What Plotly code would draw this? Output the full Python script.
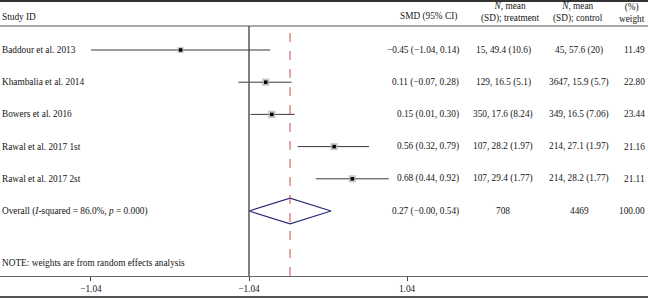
import plotly.graph_objects as go

studies = ["Baddour et al. 2013", "Khambalia et al. 2014", "Bowers et al. 2016",
           "Rawal et al. 2017 1st", "Rawal et al. 2017 2st"]
smd = [-0.45, 0.11, 0.15, 0.56, 0.68]
ci_lo = [-1.04, -0.07, 0.01, 0.32, 0.44]
ci_hi = [0.14, 0.28, 0.30, 0.79, 0.92]
smd_text = ["\u22120.45 (\u22121.04, 0.14)", "0.11 (\u22120.07, 0.28)", "0.15 (0.01, 0.30)",
            "0.56 (0.32, 0.79)", "0.68 (0.44, 0.92)"]
treat_text = ["15, 49.4 (10.6)", "129, 16.5 (5.1)", "350, 17.6 (8.24)",
              "107, 28.2 (1.97)", "107, 29.4 (1.77)"]
ctrl_text = ["45, 57.6 (20)", "3647, 15.9 (5.7)", "349, 16.5 (7.06)",
             "214, 27.1 (1.97)", "214, 28.2 (1.77)"]
weights = [11.49, 22.80, 23.44, 21.16, 21.11]

overall_label = "Overall (<i>I</i>-squared = 86.0%, <i>p</i> = 0.000)"
overall_est, overall_lo, overall_hi = 0.27, -0.00, 0.54
overall_text = "0.27 (\u22120.00, 0.54)"
overall_treat, overall_ctrl, overall_weight = "708", "4469", "100.00"

tick_vals = [-1.04, 0.0, 1.04]
tick_labels = ["\u22121.04", "\u22121.04", "1.04"]

W, H = 648, 298
FONT = "Liberation Serif"
TXT = "#151515"
FS = 9.3

rows = list(range(1, len(studies) + 1))
overall_row = len(studies) + 1

def px(xp):
    return xp / W

def py(yp):
    return 1 - yp / H

fig = go.Figure()

# CI lines
xs, ys = [], []
for lo, hi, r in zip(ci_lo, ci_hi, rows):
    xs += [lo, hi, None]
    ys += [r, r, None]
fig.add_trace(go.Scatter(x=xs, y=ys, mode="lines", line=dict(color="#3a3a3a", width=1),
                         hoverinfo="skip", showlegend=False))

# weight squares
sizes = [3 + (w ** 0.5) * 0.9 for w in weights]
fig.add_trace(go.Scatter(x=smd, y=rows, mode="markers",
                         marker=dict(symbol="square", size=sizes, color="#b0b0b0",
                                     line=dict(width=0)),
                         hoverinfo="skip", showlegend=False))
fig.add_trace(go.Scatter(x=smd, y=rows, mode="markers",
                         marker=dict(symbol="square", size=3.5, color="#000000"),
                         hoverinfo="skip", showlegend=False))

# diamond
h = 0.4
fig.add_trace(go.Scatter(
    x=[overall_lo, overall_est, overall_hi, overall_est, overall_lo],
    y=[overall_row, overall_row - h, overall_row, overall_row + h, overall_row],
    mode="lines", line=dict(color="#2b2b7a", width=1.2),
    hoverinfo="skip", showlegend=False))

# vertical reference lines
fig.add_shape(type="line", xref="x", yref="paper", x0=0, x1=0,
              y0=py(276), y1=py(26), line=dict(color="#555555", width=1.5))
fig.add_shape(type="line", xref="x", yref="paper", x0=overall_est, x1=overall_est,
              y0=py(276), y1=py(27), line=dict(color="#c0504d", width=1, dash="dash"))

# horizontal rules
for yp, wdt, col in [(1, 2, "#333333"), (26, 1, "#555555"), (297, 2, "#555555")]:
    fig.add_shape(type="line", xref="paper", yref="paper", x0=0, x1=1,
                  y0=py(yp), y1=py(yp), line=dict(color=col, width=wdt))

ann = []
def add(text, x, y, xanchor="left", yref="paper", size=FS):
    ann.append(dict(text=text, x=x, y=y, xref="paper", yref=yref, xanchor=xanchor,
                    yanchor="middle", showarrow=False,
                    font=dict(family=FONT, size=size, color=TXT)))

# headers
add("Study ID", px(0), py(17))
add("SMD (95% CI)", px(428), py(17), "center")
add("<i>N</i>, mean<br>(SD); treatment", px(511), py(13), "center")
add("<i>N</i>, mean<br>(SD); control", px(578), py(13), "center")
add("(%)<br>weight", px(647), py(13), "right")

for i, r in enumerate(rows):
    add(studies[i], px(0), r, "left", "y")
    add(smd_text[i], px(461), r, "right", "y")
    add(treat_text[i], px(503), r, "center", "y")
    add(ctrl_text[i], px(579), r, "center", "y")
    add(f"{weights[i]:.2f}", px(647), r, "right", "y")

add(overall_label, px(0), overall_row, "left", "y")
add(overall_text, px(461), overall_row, "right", "y")
add(overall_treat, px(503), overall_row, "center", "y")
add(overall_ctrl, px(579), overall_row, "center", "y")
add(overall_weight, px(647), overall_row, "right", "y")

add("NOTE: weights are from random effects analysis", px(0), py(263))

# axes geometry: 0 at px 249, 152 px per unit
x0px, scale = 249, 152
row_px0, row_step = 50, 32.2
axis_px = 276

fig.update_layout(
    width=W, height=H,
    margin=dict(l=0, r=0, t=0, b=0, pad=0),
    paper_bgcolor="white", plot_bgcolor="white",
    annotations=ann,
    xaxis=dict(range=[-x0px / scale, (W - x0px) / scale], domain=[0, 1],
               tickvals=tick_vals, ticktext=tick_labels, ticks="outside", ticklen=4,
               tickcolor="#444444", showgrid=False, zeroline=False,
               showline=True, linecolor="#666666", linewidth=1,
               tickfont=dict(family=FONT, size=FS, color=TXT)),
    yaxis=dict(domain=[1 - axis_px / H, 1],
               range=[1 + (axis_px - row_px0) / row_step, 1 - row_px0 / row_step],
               showgrid=False, zeroline=False, showticklabels=False, showline=False),
)

fig.write_html("out.html", config={"displayModeBar": False},
               post_script="document.body.style.margin='0';document.body.style.overflow='hidden';")
